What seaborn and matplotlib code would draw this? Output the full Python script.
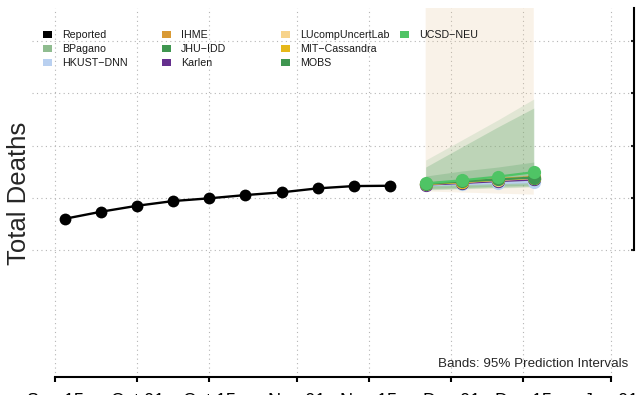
import matplotlib
matplotlib.use("Agg")
import matplotlib.pyplot as plt
import matplotlib.dates as mdates
from matplotlib.patches import Rectangle
import numpy as np
import pandas as pd
import seaborn as sns


# reported weekly totals
reported_dates = ["2022-09-17", "2022-09-24", "2022-10-01", "2022-10-08", "2022-10-15",
                  "2022-10-22", "2022-10-29", "2022-11-05", "2022-11-12", "2022-11-19"]
reported_deaths = [88000, 88670, 89240, 89690, 89950, 90260, 90520, 90900, 91120, 91150]

# forecast horizon
forecast_dates = ["2022-11-26", "2022-12-03", "2022-12-10", "2022-12-17"]

models = ["BPagano", "HKUST\u2212DNN", "IHME", "JHU\u2212IDD", "Karlen",
          "LUcompUncertLab", "MIT\u2212Cassandra", "MOBS", "UCSD\u2212NEU"]

median = {
    "BPagano": [91320, 91510, 91700, 91840],
    "HKUST\u2212DNN": [91220, 91320, 91410, 91510],
    "IHME": [91360, 91560, 91790, 91990],
    "JHU\u2212IDD": [91320, 91460, 91650, 91840],
    "Karlen": [91270, 91410, 91600, 91750],
    "LUcompUncertLab": [91320, 91510, 91700, 91890],
    "MIT\u2212Cassandra": [91320, 91510, 91750, 91940],
    "MOBS": [91340, 91560, 91750, 91940],
    "UCSD\u2212NEU": [91380, 91670, 92020, 92450],
}

# 95% prediction intervals (only the visible ones)
lower = {
    "LUcompUncertLab": [90600, 90500, 90400, 90300],
    "BPagano": [90740, 90840, 90930, 91030],
    "JHU\u2212IDD": [90800, 90900, 91000, 91100],
    "MOBS": [90890, 90980, 91120, 91220],
    "HKUST\u2212DNN": [91080, 91150, 91220, 91300],
}
upper = {
    "LUcompUncertLab": [116000, 125000, 135000, 145000],
    "BPagano": [93610, 95520, 97440, 99450],
    "JHU\u2212IDD": [92940, 94860, 96770, 98590],
    "MOBS": [92080, 92560, 92940, 93420],
    "HKUST\u2212DNN": [91400, 91520, 91640, 91760],
}

colors = {
    "Reported": "#000000",
    "BPagano": "#8fbc8f",
    "HKUST\u2212DNN": "#b9d0f0",
    "IHME": "#d99a35",
    "JHU\u2212IDD": "#3f9650",
    "Karlen": "#652f8e",
    "LUcompUncertLab": "#f7d38a",
    "MIT\u2212Cassandra": "#e6b81a",
    "MOBS": "#3f9650",
    "UCSD\u2212NEU": "#4fc465",
}
band_colors = dict(colors, **{"LUcompUncertLab": "#e8c89a"})

tick_dates = ["2022-09-15", "2022-10-01", "2022-10-15", "2022-11-01",
              "2022-11-15", "2022-12-01", "2022-12-15", "2023-01-01"]
y_ticks = [85000, 90000, 95000, 100000, 105000]


def main():
    sns.set_style("white")
    plt.rcParams["font.family"] = ["Liberation Sans", "DejaVu Sans"]

    rep = pd.DataFrame({"date": pd.to_datetime(reported_dates), "deaths": reported_deaths})
    fc = pd.DataFrame([
        {"date": pd.Timestamp(d), "model": m, "deaths": v}
        for m in models for d, v in zip(forecast_dates, median[m])
    ])
    fdates = pd.to_datetime(forecast_dates)

    fig = plt.figure(figsize=(6.36, 3.95), dpi=100)
    ax = fig.add_axes([32 / 636, 18 / 395, 602 / 636, 369 / 395])

    # bands
    for m in ["LUcompUncertLab", "BPagano", "JHU\u2212IDD", "MOBS", "HKUST\u2212DNN"]:
        ax.fill_between(fdates, lower[m], upper[m], color=band_colors[m], alpha=0.22,
                        linewidth=0, zorder=1)

    sns.lineplot(data=rep, x="date", y="deaths", color="black", marker="o",
                 markersize=8.5, markeredgewidth=0, linewidth=1.7, ax=ax, zorder=4)
    sns.lineplot(data=fc, x="date", y="deaths", hue="model", hue_order=models,
                 palette=colors, marker="o", markersize=9.5, markeredgewidth=0,
                 linewidth=1.6, legend=False, ax=ax, zorder=5)

    # axes
    x0 = pd.Timestamp(tick_dates[0]) - pd.Timedelta(days=4.47)
    x1 = pd.Timestamp(tick_dates[-1]) + pd.Timedelta(days=4.47)
    ax.set_xlim(x0, x1)
    ax.set_ylim(72850, 108160)
    ax.set_xticks(pd.to_datetime(tick_dates))
    ax.xaxis.set_major_formatter(mdates.DateFormatter("%b %d"))
    ax.set_yticks(y_ticks)
    ax.grid(True, linestyle=(0, (1, 3)), color="#b5b5b5", linewidth=0.8)
    ax.set_xlabel("")
    ax.set_ylabel("")

    for s in ["top", "left"]:
        ax.spines[s].set_visible(False)
    ax.spines["bottom"].set_bounds(mdates.date2num(pd.Timestamp(tick_dates[0])),
                                   mdates.date2num(pd.Timestamp(tick_dates[-1])))
    ax.spines["right"].set_bounds(y_ticks[0], 108160)
    for s in ["bottom", "right"]:
        ax.spines[s].set_linewidth(1.5)
        ax.spines[s].set_color("black")
    ax.tick_params(axis="x", bottom=True, direction="out", length=3.6, width=1.5,
                   pad=8.2, labelsize=13, colors="black")
    ax.tick_params(axis="y", left=False, right=True, labelleft=False, direction="in",
                   length=2, width=1.5)

    fig.text(19 / 636, 1 - 193 / 395, "Total Deaths", rotation=90, ha="center",
             va="center", fontsize=18.5)
    fig.text(628 / 636, 1 - 367 / 395, "Bands: 95% Prediction Intervals", ha="right",
             va="baseline", fontsize=9.6)

    # legend, R style grid of squares
    entries = ["Reported"] + models
    for i, name in enumerate(entries):
        col, row = i // 3, i % 3
        px = 42.5 + col * 119.2
        py = 38 + row * 14
        fig.add_artist(Rectangle((px / 636, 1 - py / 395), 9 / 636, 7 / 395,
                                 transform=fig.transFigure, color=colors[name], lw=0))
        fig.text((px + 19.5) / 636, 1 - py / 395, name, ha="left", va="baseline",
                 fontsize=7.7, color="#1a1a1a")

    plt.savefig("out.png", dpi=100)


if __name__ == "__main__":
    main()
